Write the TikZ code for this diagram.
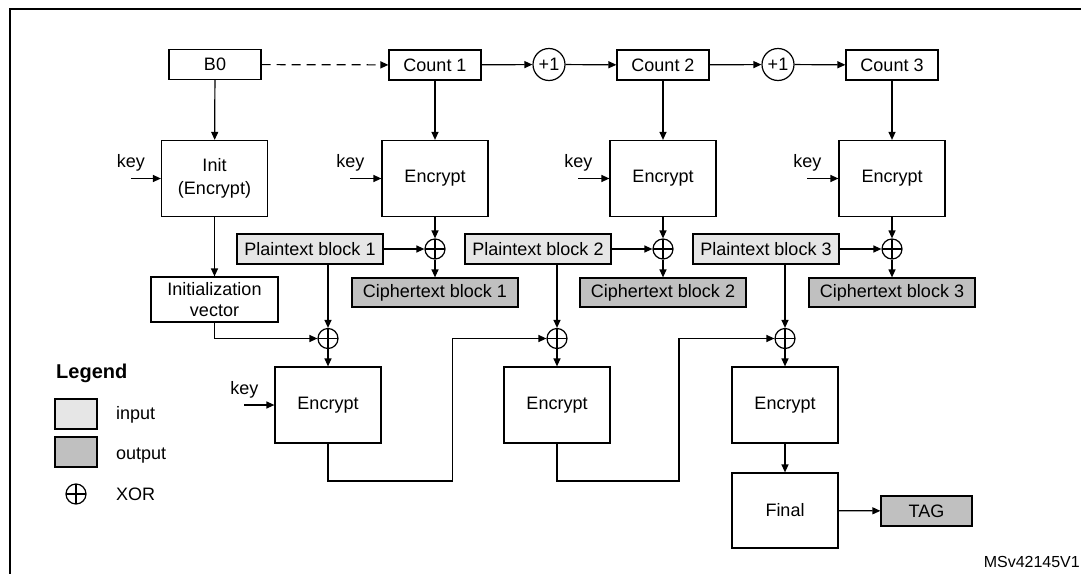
\documentclass[tikz,border=0pt]{standalone}
\usepackage{fontspec}
\setmainfont{Liberation Sans}
\usetikzlibrary{arrows.meta,positioning}
\definecolor{infill}{HTML}{E6E6E6}
\definecolor{outfill}{HTML}{C0C0C0}
\tikzset{
  every node/.style={font=\fontsize{18}{23}\selectfont},
  blk/.style={draw, line width=1.2pt, minimum width=106pt, minimum height=76pt, inner sep=0pt, align=center},
  ctrbox/.style={draw, line width=1.2pt, minimum width=92pt, minimum height=30pt, inner sep=0pt},
  inbox/.style={draw, line width=1.2pt, fill=infill, minimum height=30pt, inner sep=0pt},
  outbox/.style={draw, line width=1.2pt, fill=outfill, minimum height=29pt, inner sep=0pt},
  xorop/.style={circle, draw, line width=1.2pt, minimum size=20pt, inner sep=0pt,
    path picture={\draw[line width=1.2pt] (path picture bounding box.north) -- (path picture bounding box.south)
      (path picture bounding box.west) -- (path picture bounding box.east);}},
  incop/.style={circle, draw, line width=1.2pt, minimum size=32pt, inner sep=0pt},
  keytxt/.style={inner sep=0pt},
  flow/.style={line width=1.2pt, -{Triangle[length=8pt,width=7pt]}},
}
\begin{document}
\begin{tikzpicture}[x=1pt,y=-1pt]
  \useasboundingbox (0,0) rectangle (1081,573);
  \clip (0,0) rectangle (1081,573);
  \draw[line width=2.5pt] (10,600) -- (10,9) -- (1100,9);

  % counters
  \node[ctrbox] (b0) at (215,64.5) {B0};
  \foreach \i/\x in {1/435,2/663,3/892}
    \node[ctrbox] (cnt\i) at (\x,65) {Count \i};
  \node[incop] (inc1) at (549,64.5) {+1};
  \node[incop] (inc2) at (778,64.5) {+1};
  \draw[flow, dash pattern=on 9pt off 6pt] (b0) -- (cnt1);
  \draw[flow] (cnt1) -- (inc1);
  \draw[flow] (inc1) -- (cnt2);
  \draw[flow] (cnt2) -- (inc2);
  \draw[flow] (inc2) -- (cnt3);

  % init branch
  \node[blk] (init) at (214.5,178.5) {Init\\(Encrypt)};
  \node[draw, line width=1.2pt, minimum width=127pt, minimum height=45pt, inner sep=0pt, align=center,
    font=\fontsize{18}{21}\selectfont] (iv) at (214.5,299.5) {Initialization\\vector};
  \coordinate[left=30pt of init] (key0);
  \node[keytxt, above=7pt of key0] (kt0) {key};
  \draw[flow] (key0) -- (init);
  \draw[flow] (b0) -- (init);
  \draw[flow] (init) -- (iv);

  % one column per block
  \foreach \i/\x/\p/\b in {1/435/310/328,2/663/538/557,3/892/766/785}{
    \node[blk] (enc\i) at (\x,178.5) {Encrypt};
    \coordinate[left=31pt of enc\i] (key\i);
    \node[keytxt, above=7pt of key\i] (kt\i) {key};
    \node[inbox, minimum width=146pt] (pt\i) at (\p,249) {Plaintext block \i};
    \node[xorop] (xa\i) at (\x,249) {};
    \node[outbox, minimum width=166pt] (ct\i) at (\x,292.5) {Ciphertext block \i};
    \node[xorop] (xb\i) at (\b,338.5) {};
    \node[blk] (mac\i) at (\b,405) {Encrypt};
    \draw[flow] (key\i) -- (enc\i);
    \draw[flow] (cnt\i) -- (enc\i);
    \draw[flow] (enc\i) -- (xa\i);
    \draw[flow] (pt\i) -- (xa\i);
    \draw[flow] (xa\i) -- (ct\i);
    \draw[flow] (pt\i.south -| xb\i) -- (xb\i);
    \draw[flow] (xb\i) -- (mac\i);
  }
  \draw[flow] (iv) |- (xb1);
  \coordinate[left=30pt of mac1] (key4);
  \node[keytxt, above=7pt of key4] (kt4) {key};
  \draw[flow] (key4) -- (mac1);

  % chaining
  \coordinate (turn1) at (452.5,481);
  \coordinate (turn2) at (679,481);
  \draw[flow] (mac1) |- (turn1) |- (xb2);
  \draw[flow] (mac2) |- (turn2) |- (xb3);

  % final
  \node[blk, minimum height=75pt] (fin) at (785,510.5) {Final};
  \node[outbox, minimum width=91pt, minimum height=30pt] (tag) at (926.5,511) {TAG};
  \draw[flow] (mac3) -- (fin);
  \draw[flow] (fin) -- (tag);

  % legend
  \node[font=\fontsize{20}{24}\selectfont\bfseries, anchor=base west, inner sep=0pt] (lgd) at (56,378) {Legend};
  \node[inbox, minimum width=42pt] (lgin) at (76,414) {};
  \node[outbox, minimum width=42pt, minimum height=30pt] (lgout) at (76,452) {};
  \node[xorop] (lgxor) at (76,494) {};
  \node[anchor=base west, inner sep=0pt] (lgintxt) at (116,419) {input};
  \node[anchor=base west, inner sep=0pt] (lgouttxt) at (116,459) {output};
  \node[anchor=base west, inner sep=0pt] (lgxortxt) at (116,500) {XOR};

  \node[font=\fontsize{16}{19}\selectfont, anchor=base east, inner sep=0pt] (ref) at (1080,567) {MSv42145V1};
\end{tikzpicture}
\end{document}
